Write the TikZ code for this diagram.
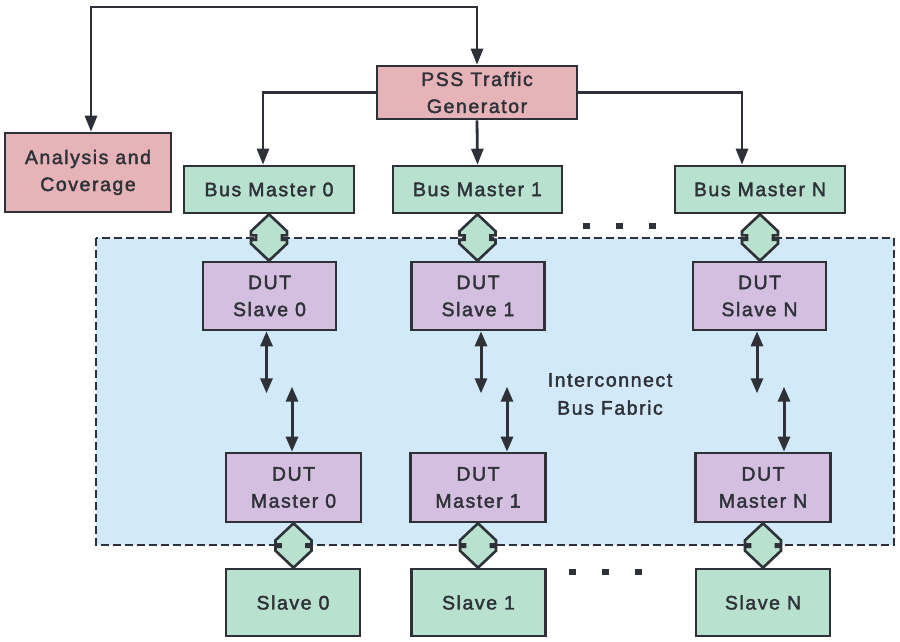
\documentclass[tikz,border=0pt]{standalone}
\usepackage{fontspec}
\setmainfont[LetterSpace=8,FakeBold=2]{Liberation Sans}
\usetikzlibrary{arrows.meta,calc}
\definecolor{ink}{HTML}{2E3238}
\definecolor{pinkbox}{HTML}{E6B4B8}
\definecolor{mintbox}{HTML}{B8E1CF}
\definecolor{lavbox}{HTML}{D4BFE0}
\definecolor{fabricblue}{HTML}{D1E9F9}
\tikzset{
  box/.style={draw=ink, line width=2.6pt, rectangle, align=center, text=ink,
    font=\fontsize{19.5}{27}\selectfont, inner sep=0pt},
  pinkb/.style={box, fill=pinkbox},
  mintb/.style={box, fill=mintbox},
  lavb/.style={box, fill=lavbox},
  conn/.style={draw=ink, line width=2.8pt, -{Triangle[length=16pt,width=12pt]}},
  bidir/.style={draw=ink, line width=3pt, {Triangle[length=15pt,width=12pt]}-{Triangle[length=15pt,width=12pt]}},
  fatarr/.style={draw=ink, fill=mintbox, line width=2.6pt, line join=miter},
  fabric/.style={draw=ink, fill=fabricblue, line width=2.4pt, dash pattern=on 8pt off 4pt},
  dotsq/.style={fill=ink, draw=none}
}
\newcommand\fatlink[2]{%
  \filldraw[fatarr] let \p1=(#1.south), \p2=(#2.north) in
  (\x1,\y1) -- (\x1+18pt,\y1-17pt) -- (\x1+18pt,\y1-21pt) -- (\x1+13pt,\y1-21pt)
  -- (\x1+13pt,\y2+21pt) -- (\x1+18pt,\y2+21pt) -- (\x1+18pt,\y2+17pt) -- (\x1,\y2)
  -- (\x1-18pt,\y2+17pt) -- (\x1-18pt,\y2+21pt) -- (\x1-13pt,\y2+21pt)
  -- (\x1-13pt,\y1-21pt) -- (\x1-18pt,\y1-21pt) -- (\x1-18pt,\y1-17pt) -- cycle;}
\begin{document}
\begin{tikzpicture}[x=1pt,y=-1pt]
\useasboundingbox[fill=white] (0,0) rectangle (900,642);
% fabric
\path[fabric] (96,238) rectangle (894,545);
\node[text=ink, align=center, font=\fontsize{19.5}{28}\selectfont] (fab) at (610,394) {Interconnect\\Bus Fabric};
% nodes
\node[pinkb, minimum width=166pt, minimum height=79pt] (an) at (88,172.5) {Analysis and\\Coverage};
\node[pinkb, minimum width=200pt, minimum height=53pt] (pss) at (477,92.5) {PSS Traffic\\Generator};
\node[mintb, minimum width=170pt, minimum height=47pt] (bm0) at (269,189.5) {Bus Master 0};
\node[mintb, minimum width=169pt, minimum height=47pt] (bm1) at (477.5,189.5) {Bus Master 1};
\node[mintb, minimum width=170pt, minimum height=47pt] (bmN) at (760,189.5) {Bus Master N};
\node[lavb, minimum width=133pt, minimum height=68pt] (ds0) at (269.5,296) {DUT\\Slave 0};
\node[lavb, minimum width=133pt, minimum height=68pt] (ds1) at (478,296) {DUT\\Slave 1};
\node[lavb, minimum width=133pt, minimum height=68pt] (dsN) at (759.5,296) {DUT\\Slave N};
\node[lavb, minimum width=135pt, minimum height=69pt] (dm0) at (293.5,487.5) {DUT\\Master 0};
\node[lavb, minimum width=135pt, minimum height=69pt] (dm1) at (478,487.5) {DUT\\Master 1};
\node[lavb, minimum width=135pt, minimum height=69pt] (dmN) at (763,487.5) {DUT\\Master N};
\node[mintb, minimum width=134pt, minimum height=67pt] (s0) at (293,602.5) {Slave 0};
\node[mintb, minimum width=134pt, minimum height=67pt] (s1) at (478.5,602.5) {Slave 1};
\node[mintb, minimum width=134pt, minimum height=67pt] (sN) at (763,602.5) {Slave N};
% top connectors
\coordinate (tl) at (91,7);
\coordinate (tr) at (477,7);
\draw[conn] (tr) -- (tl) -- (an.north -| tl);
\draw[conn] (tl) -- (tr) -- (pss.north);
\draw[conn] (pss.west) -| ([xshift=-6pt]bm0.north);
\draw[conn] (pss.south) -- (bm1.north);
\draw[conn] (pss.east) -| ([xshift=-18pt]bmN.north);
% dots
\foreach \xx in {586,619,652} \fill[dotsq] (\xx-3.5,223) rectangle (\xx+3.5,229);
\foreach \xx in {572,605,638} \fill[dotsq] (\xx-3.5,569) rectangle (\xx+3.5,575);
% fat arrows
\fatlink{bm0}{ds0}
\fatlink{bm1}{ds1}
\fatlink{bmN}{dsN}
\fatlink{dm0}{s0}
\fatlink{dm1}{s1}
\fatlink{dmN}{sN}
% thin bidirectional arrows
\draw[bidir] ([xshift=-3pt]ds0.south) -- ++(0,62);
\draw[bidir] ([xshift=-1.5pt,yshift=65pt]dm0.north) -- ([xshift=-1.5pt]dm0.north);
\draw[bidir] ([xshift=3pt]ds1.south) -- ++(0,62);
\draw[bidir] ([xshift=29pt,yshift=65pt]dm1.north) -- ([xshift=29pt]dm1.north);
\draw[bidir] ([xshift=-2.5pt]dsN.south) -- ++(0,62);
\draw[bidir] ([xshift=21pt,yshift=65pt]dmN.north) -- ([xshift=21pt]dmN.north);
\end{tikzpicture}
\end{document}
